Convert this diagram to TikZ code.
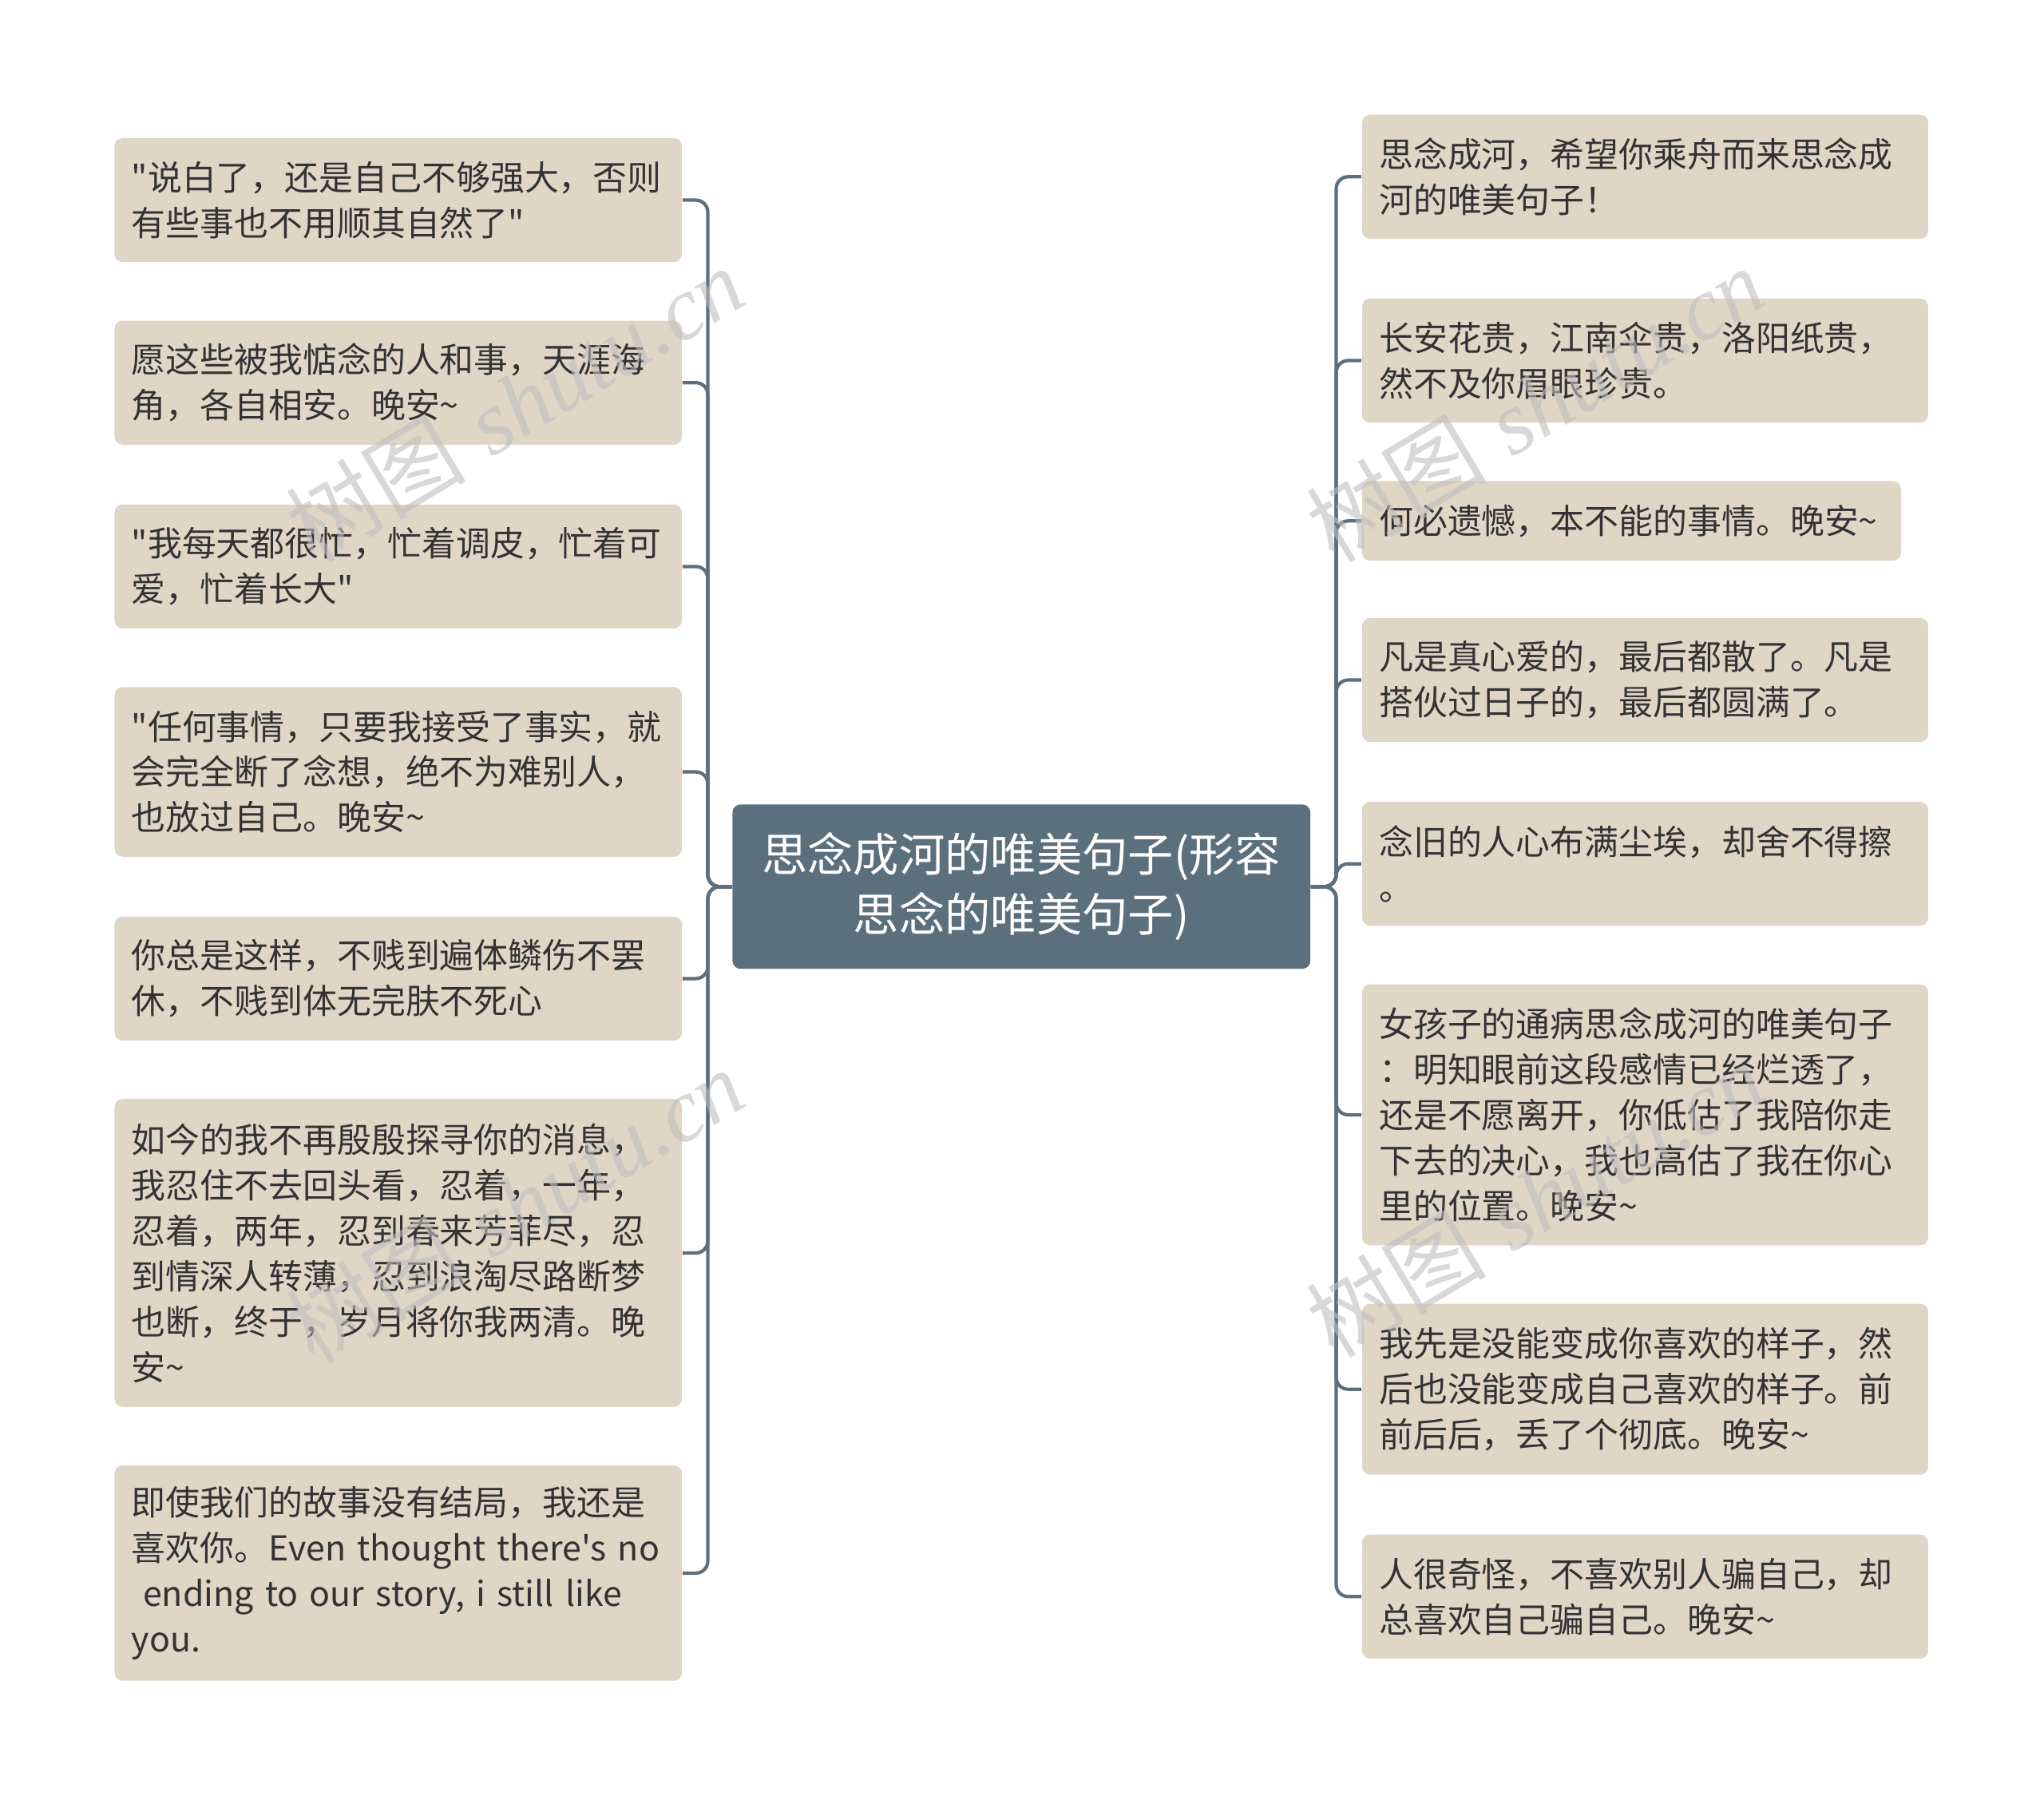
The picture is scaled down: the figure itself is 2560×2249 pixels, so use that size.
\documentclass[tikz,border=0pt]{standalone}
\usepackage{fontspec}
\newfontfamily\cjk{Noto Sans CJK SC}
\newfontfamily\wmserif{Liberation Serif}
\definecolor{leafC}{RGB}{224,214,198}
\definecolor{hubC}{RGB}{92,111,125}
\definecolor{lineC}{RGB}{92,111,125}
\definecolor{txtC}{RGB}{51,51,51}
\definecolor{wmC}{RGB}{190,190,190}
\newcommand\tld{\string~}
\begin{document}
\begin{tikzpicture}[x=0.01cm,y=-0.01cm,
  leaf/.style={fill=leafC, rounded corners=0.1cm, inner xsep=0.213cm, inner ysep=0pt,
    text width=6.676cm, align=left, text=txtC,
    font=\cjk\fontsize{12.2pt}{16.2pt}\selectfont},
  rleaf/.style={leaf, text width=6.66cm},
  hub/.style={fill=hubC, rounded corners=0.1cm, minimum width=7.233cm, minimum height=2.057cm,
    align=center, text=white, font=\cjk\fontsize{16.3pt}{21.3pt}\selectfont},
  conn/.style={draw=lineC, line width=1.2pt, rounded corners=0.15cm},
  wm/.style={text=wmC, opacity=0.6, rotate=31, font=\fontsize{32pt}{36pt}\selectfont}
]
\useasboundingbox (0,0) rectangle (2560,2249);
\fill[white] (0,0) rectangle (2560,2249);

\node[hub] (C) at (1279.3,1110.3) {思念成河的唯美句子(形容\\思念的唯美句子)};

\coordinate (lt) at (886.5,1110.3);
\coordinate (rt) at (1673.5,1110.3);

% left
\node[leaf, minimum height=1.551cm] (L1) at (498.8,250.6) {\mbox{"说白了，还是自己不够强大，否则}\\\mbox{有些事也不用顺其自然了"}};
\node[leaf, minimum height=1.551cm] (L2) at (498.8,479.2) {\mbox{愿这些被我惦念的人和事，天涯海}\\\mbox{角，各自相安。晚安\tld}};
\node[leaf, minimum height=1.551cm] (L3) at (498.8,709.4) {\mbox{"我每天都很忙，忙着调皮，忙着可}\\\mbox{爱，忙着长大"}};
\node[leaf, minimum height=2.123cm] (L4) at (498.8,966.6) {\mbox{"任何事情，只要我接受了事实，就}\\\mbox{会完全断了念想，绝不为难别人，}\\\mbox{也放过自己。晚安\tld}};
\node[leaf, minimum height=1.551cm] (L5) at (498.8,1225.4) {\mbox{你总是这样，不贱到遍体鳞伤不罢}\\\mbox{休，不贱到体无完肤不死心}};
\node[leaf, minimum height=3.853cm] (L6) at (498.8,1569.0) {\mbox{如今的我不再殷殷探寻你的消息，}\\\mbox{我忍住不去回头看，忍着，一年，}\\\mbox{忍着，两年，忍到春来芳菲尽，忍}\\\mbox{到情深人转薄，忍到浪淘尽路断梦}\\\mbox{也断，终于，岁月将你我两清。晚}\\\mbox{安\tld}};
\node[leaf, minimum height=2.694cm] (L7) at (498.8,1969.9) {\mbox{即使我们的故事没有结局，我还是}\\\mbox{喜欢你。Even thought there's no}\\\mbox{\ ending to our story, i still like}\\\mbox{you.}};

% right
\node[rleaf, minimum height=1.551cm] (R1) at (2060.4,221.3) {\mbox{思念成河，希望你乘舟而来思念成}\\\mbox{河的唯美句子！}};
\node[rleaf, minimum height=1.551cm] (R2) at (2060.4,451.5) {\mbox{长安花贵，江南伞贵，洛阳纸贵，}\\\mbox{然不及你眉眼珍贵。}};
\node[leaf, text width=6.319cm, minimum height=0.996cm] (R3) at (2043.4,652.3) {\mbox{何必遗憾，本不能的事情。晚安\tld}};
\node[rleaf, minimum height=1.551cm] (R4) at (2060.4,851.5) {\mbox{凡是真心爱的，最后都散了。凡是}\\\mbox{搭伙过日子的，最后都圆满了。}};
\node[rleaf, minimum height=1.551cm] (R5) at (2060.4,1081.7) {\mbox{念旧的人心布满尘埃，却舍不得擦}\\\mbox{。}};
\node[rleaf, minimum height=3.265cm] (R6) at (2060.4,1396.0) {\mbox{女孩子的通病思念成河的唯美句子}\\\mbox{：明知眼前这段感情已经烂透了，}\\\mbox{还是不愿离开，你低估了我陪你走}\\\mbox{下去的决心，我也高估了我在你心}\\\mbox{里的位置。晚安\tld}};
\node[rleaf, minimum height=2.139cm] (R7) at (2060.4,1739.7) {\mbox{我先是没能变成你喜欢的样子，然}\\\mbox{后也没能变成自己喜欢的样子。前}\\\mbox{前后后，丢了个彻底。晚安\tld}};
\node[rleaf, minimum height=1.551cm] (R8) at (2060.4,1999.3) {\mbox{人很奇怪，不喜欢别人骗自己，却}\\\mbox{总喜欢自己骗自己。晚安\tld}};

% connectors
\foreach \n in {L1,L2,L3,L4,L5,L6,L7}{
  \draw[conn] (C.west) -- (lt) |- (\n.east);
}
\foreach \n in {R1,R2,R3,R4,R5,R6,R7,R8}{
  \draw[conn] (C.east) -- (rt) |- (\n.west);
}

% watermarks
\node[wm] (W1) at (645,506) {{\cjk 树图} {\wmserif\itshape shutu.cn}};
\node[wm] (W2) at (645,1510) {{\cjk 树图} {\wmserif\itshape shutu.cn}};
\node[wm] (W3) at (1923,506) {{\cjk 树图} {\wmserif\itshape shutu.cn}};
\node[wm] (W4) at (1923,1502) {{\cjk 树图} {\wmserif\itshape shutu.cn}};
\end{tikzpicture}
\end{document}
